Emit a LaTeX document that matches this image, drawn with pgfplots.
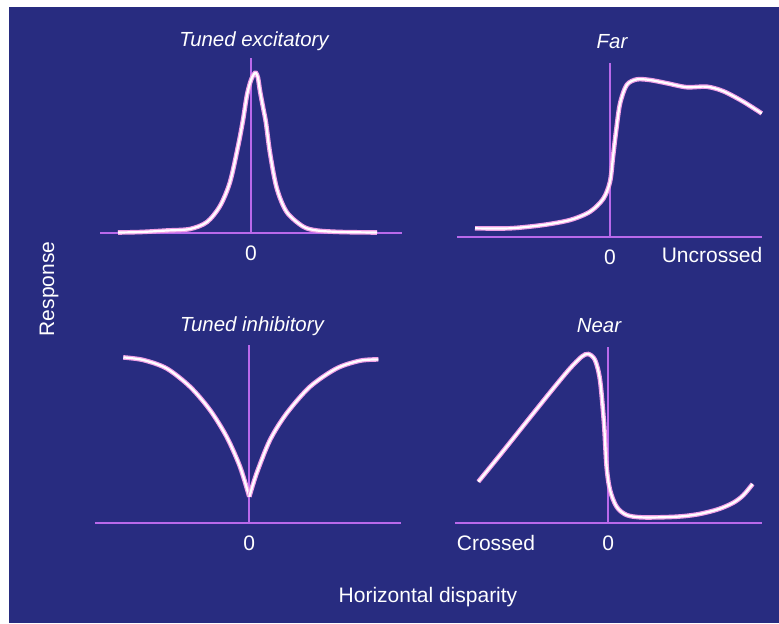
\documentclass[border=0pt]{standalone}
\usepackage{pgfplots}
\usepackage{pgfplotstable}
\pgfplotsset{compat=1.18}
\usepackage{fontspec}
\setmainfont{Liberation Sans}
\definecolor{bg}{RGB}{40,44,128}
\definecolor{axc}{RGB}{185,105,235}
\definecolor{glow}{RGB}{240,160,230}

\pgfplotstableread{
x y
-133 0.5
-110 1
-84 2.5
-61 4
-44 11
-31 27
-21 51
-12.7 88
-8 113
-4 138
0 153
3 159
5 160
7 155
9 142
12 126
15 110
19 80
25.7 45
35.7 21
52 6.5
66 2.5
90 1
126 0.5
}\exc

\pgfplotstableread{
x y
-135 8.4
-100 8.4
-67 11.7
-40 16.7
-20 25
-6.7 38
0 55
3 80
6 105
10 133
16.7 151.7
26.7 157.3
40 156.7
56.7 153.5
76.7 149.5
96.7 150
113.3 145.5
133.3 135
151.7 123.3
}\far

\pgfplotstableread{
x y
-126 165.3
-106 162.7
-82.7 154.3
-59.3 136
-39.3 112.7
-22.7 86
-9.3 56
0 26
}\inhL

\pgfplotstableread{
x y
0 26
7.3 49.3
20.7 82.7
37.3 109.3
60.7 136
87.3 154.3
110.7 162
129 163.3
}\inhR

\pgfplotstableread{
x y
-130 41
-108.3 67.7
-81.7 101
-55 134.3
-38.3 154.3
-26.7 166
-20 168.7
-13.3 162.7
-8.3 142.7
-4.3 99.3
-1.7 56
1.7 32.7
8.3 16
18.3 7.7
35 5.3
68.3 6
90 8.5
110 13.5
125 20
135 27.5
144.3 38.7
}\near

\pgfplotsset{
  panel/.style={
    x=0.5pt, y=0.5pt, anchor=south west,
    axis lines=middle, axis line style={draw=axc, line width=0.9pt, -},
    ymin=0, xtick={0}, xticklabels={0}, ytick=\empty,
    major tick length=0pt, hide obscured x ticks=false,
    xticklabel style={font=\fontsize{10.5}{12}\selectfont, text=white, yshift=-3pt},
    clip=false,
  },
  curve/.style={smooth, no marks, white, line width=1.1pt,
    preaction={draw=glow, line width=2.3pt}},
}

\begin{document}
\begin{tikzpicture}
\fill[white] (0pt,0pt) rectangle (389.5pt,311.5pt);
\fill[bg] (4.5pt,0pt) rectangle (389.5pt,308pt);

\begin{axis}[panel, at={(50pt,195pt)}, xmin=-151, xmax=151, ymax=175]
\addplot[curve] table[x=x,y=y] {\exc};
\end{axis}

\begin{axis}[panel, at={(228.5pt,193.15pt)}, xmin=-153, xmax=152, ymax=173.7]
\addplot[curve] table[x=x,y=y] {\far};
\end{axis}

\begin{axis}[panel, at={(47.5pt,50.15pt)}, xmin=-154.3, xmax=151.7, ymax=177.7]
\addplot[curve] table[x=x,y=y] {\inhL};
\addplot[curve] table[x=x,y=y] {\inhR};
\end{axis}

\begin{axis}[panel, at={(227.5pt,50.15pt)}, xmin=-153.3, xmax=153.7, ymax=176]
\addplot[curve] table[x=x,y=y] {\near};
\end{axis}

\begin{scope}[every node/.style={text=white, inner sep=0pt}]
\node[font=\fontsize{10.2}{12}\selectfont\itshape] at (127pt,290.75pt) {Tuned excitatory};
\node[font=\fontsize{10.2}{12}\selectfont\itshape] at (306pt,290.5pt) {Far};
\node[font=\fontsize{10.2}{12}\selectfont\itshape] at (126pt,148.5pt) {Tuned inhibitory};
\node[font=\fontsize{10.2}{12}\selectfont\itshape] at (299.5pt,148.5pt) {Near};
\node[font=\fontsize{10.5}{12}\selectfont] at (356pt,184pt) {Uncrossed};
\node[font=\fontsize{10.5}{12}\selectfont] at (248pt,40pt) {Crossed};
\node[font=\fontsize{10.5}{12}\selectfont] at (214pt,13pt) {Horizontal disparity};
\node[font=\fontsize{10.5}{12}\selectfont, rotate=90] at (24.5pt,167pt) {Response};
\end{scope}
\end{tikzpicture}
\end{document}
